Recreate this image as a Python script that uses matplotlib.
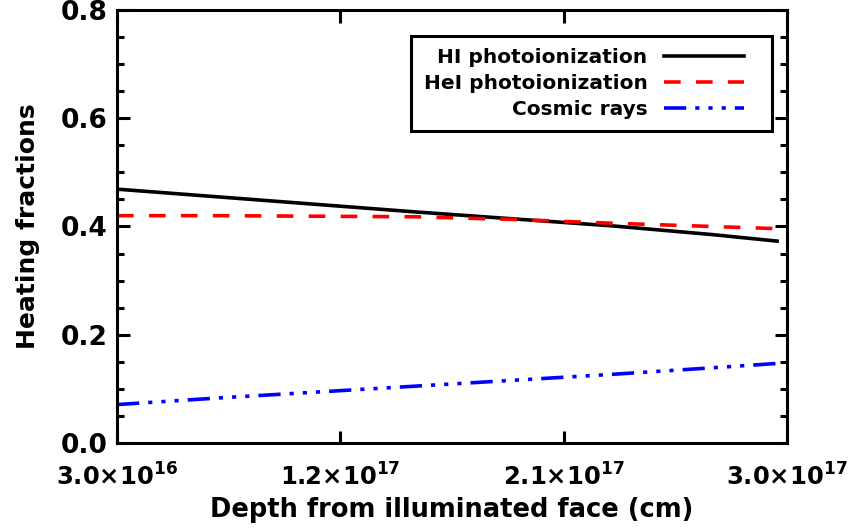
import numpy as np
import matplotlib
matplotlib.use('Agg')
import matplotlib.pyplot as plt
from matplotlib.ticker import MultipleLocator, FormatStrFormatter
from matplotlib.legend_handler import HandlerLine2D

# depth (cm) and heating fractions
depth = [3.0e16, 7.0e16, 1.1e17, 1.5e17, 1.9e17, 2.3e17, 2.7e17, 2.96e17]
hi_frac = [0.469, 0.455, 0.441, 0.427, 0.414, 0.401, 0.385, 0.373]
hei_frac = [0.420, 0.420, 0.419, 0.418, 0.413, 0.406, 0.400, 0.396]
cr_frac = [0.071, 0.083, 0.094, 0.105, 0.116, 0.127, 0.139, 0.147]

xticks = [3.0e16, 1.2e17, 2.1e17, 3.0e17]
xticklabels = [r'$\mathbf{3.0{\times}10^{16}}$', r'$\mathbf{1.2{\times}10^{17}}$',
               r'$\mathbf{2.1{\times}10^{17}}$', r'$\mathbf{3.0{\times}10^{17}}$']


# legend line drawn over the left part of the handle box only,
# so there is some blank room before the right edge of the frame
class ShortLine(HandlerLine2D):
    def create_artists(self, legend, orig_handle, xdescent, ydescent, width, height, fontsize, trans):
        return super().create_artists(legend, orig_handle, xdescent, ydescent,
                                      width * 0.83, height, fontsize, trans)


plt.rcParams['font.family'] = 'DejaVu Sans'
plt.rcParams['font.weight'] = 'bold'
plt.rcParams['lines.scale_dashes'] = False

fig = plt.figure(figsize=(8.51, 5.31), dpi=100)
ax = fig.add_axes([0.1375, 0.1657, 0.7873, 0.8155])

lw = 2.6
ax.plot(depth, hi_frac, color='black', lw=lw, label='HI photoionization')
ax.plot(depth, hei_frac, color='red', lw=lw, dashes=(12, 11), label='HeI photoionization')
ax.plot(depth, cr_frac, color='blue', lw=lw, dashes=(16, 6.5, 3, 6.5, 3, 6.5, 3, 6.5),
        label='Cosmic rays')

ax.set_xlim(3.0e16, 3.0e17)
ax.set_ylim(0.0, 0.8)
ax.set_xticks(xticks)
ax.set_xticklabels(xticklabels)
ax.yaxis.set_major_locator(MultipleLocator(0.2))
ax.yaxis.set_minor_locator(MultipleLocator(0.05))
ax.yaxis.set_major_formatter(FormatStrFormatter('%.1f'))

ax.tick_params(axis='both', which='both', direction='in', top=True, right=True, width=2.2)
ax.tick_params(axis='both', which='major', length=9)
ax.tick_params(axis='y', which='major', labelsize=19, pad=7)
ax.tick_params(axis='x', which='major', labelsize=17.5, pad=15)
ax.tick_params(axis='y', which='minor', length=5)
for s in ax.spines.values():
    s.set_linewidth(2.2)

ax.set_xlabel('Depth from illuminated face (cm)', fontsize=18.5, fontweight='bold', labelpad=4)
ax.set_ylabel('Heating fractions', fontsize=18, fontweight='bold', labelpad=15)

leg = ax.legend(loc='upper right', bbox_to_anchor=(0.978, 0.94), borderaxespad=0,
                markerfirst=False, fancybox=False, framealpha=1, edgecolor='black',
                fontsize=14.5, handlelength=4.8, labelspacing=0.35, borderpad=0.6,
                handletextpad=0.8, handler_map={plt.Line2D: ShortLine()})
leg.get_frame().set_linewidth(2.2)

fig.savefig('out.png', dpi=100)
